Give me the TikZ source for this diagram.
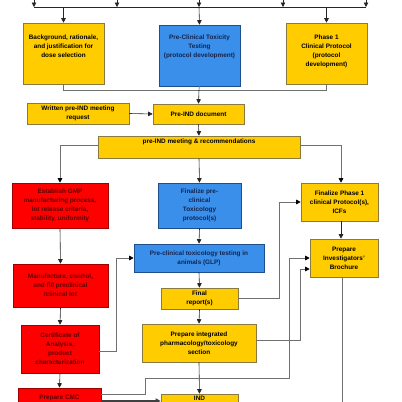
\documentclass[tikz,border=0pt]{standalone}
\usepackage{fontspec}
\setmainfont{Liberation Sans}
\usetikzlibrary{arrows.meta}
\definecolor{yfill}{HTML}{FFCC00}
\definecolor{ydraw}{HTML}{8A7A40}
\definecolor{bfill}{HTML}{3A8FEA}
\definecolor{bdraw}{HTML}{1F4E8C}
\definecolor{btext}{HTML}{14244E}
\definecolor{rfill}{HTML}{FF0000}
\definecolor{rdraw}{HTML}{A00000}
\definecolor{rtext}{HTML}{600000}
\definecolor{lgray}{HTML}{707070}
\newcommand{\toptext}[4]{\parbox[c][#2][t]{#1}{\centering\vspace*{#3}#4\par}}
\tikzset{
  base/.style={draw, line width=0.6pt, inner sep=0pt, font=\fontsize{6.4}{9}\selectfont\bfseries},
  box/.style={base, align=center},
  ybox/.style={box, fill=yfill, draw=ydraw, text=black},
  bbox/.style={box, fill=bfill, draw=bdraw, text=btext},
  rbox/.style={box, fill=rfill, draw=rdraw, text=rtext},
  ytop/.style={base, fill=yfill, draw=ydraw, text=black},
  btop/.style={base, fill=bfill, draw=bdraw, text=btext},
  rtop/.style={base, fill=rfill, draw=rdraw, text=rtext},
  arr/.style={draw=black!85, line width=0.6pt, -{Triangle[length=4.5pt,width=4.5pt]}},
  plain/.style={draw=black!85, line width=0.6pt},
  conn/.style={draw=lgray, line width=0.65pt, -{Triangle[length=4.5pt,width=4.5pt,color=black]}},
  gline/.style={draw=lgray, line width=0.65pt},
}
\begin{document}
\begin{tikzpicture}[x=1pt,y=-1pt]
\useasboundingbox (0,0) rectangle (402,402);
\clip (0,0) rectangle (402,402);

% boxes
\node[ytop] (bg) at (63.5,53.5) {\toptext{81pt}{61pt}{11.8pt}{Background, rationale,\\and justification for\\dose selection}};
\node[btop] (tox) at (199.5,55.5) {\toptext{81pt}{61pt}{9.8pt}{Pre-Clinical Toxicity\\Testing\\(protocol development)}};
\node[ytop] (ph1) at (326.5,53.5) {\toptext{81pt}{61pt}{11.8pt}{Phase 1\\Clinical Protocol\\(protocol\\development)}};

\node[ybox, minimum width=102pt, minimum height=21pt] (req) at (78,113.5) {Written pre-IND meeting\\request};
\node[ybox, minimum width=91pt, minimum height=20pt] (pre) at (198.5,114) {Pre-IND document};
\node[ytop] (meet) at (199,147) {\toptext{202pt}{22pt}{2.8pt}{pre-IND meeting \& recommendations}};

\node[rbox, minimum width=96pt, minimum height=45pt] (gmp) at (60,205.5) {Establish GMP\\manufacturing process,\\lot release criteria,\\stability, uniformity};
\node[bbox, minimum width=83pt, minimum height=45pt] (fin) at (199.5,205.5) {Finalize pre-\\clinical\\Toxicology\\protocol(s)};
\node[ybox, minimum width=77pt, minimum height=38pt] (fph) at (339.5,202) {Finalize Phase 1\\clinical Protocol(s),\\ICFs};

\node[bbox, minimum width=130pt, minimum height=28pt] (glp) at (199,258) {Pre-clinical toxicology testing in\\animals (GLP)};
\node[ybox, minimum width=68pt, minimum height=38pt] (ib) at (344,258) {Prepare\\Investigators'\\Brochure};
\node[rbox, minimum width=95pt, minimum height=43pt] (mfg) at (60.5,285.5) {Manufacture, control,\\and fill preclinical\\/clinical lot};
\node[ybox, minimum width=77pt, minimum height=21pt] (final) at (199.5,298.5) {Final\\report(s)};
\node[ybox, minimum width=114pt, minimum height=38pt] (integ) at (199,343) {Prepare integrated\\pharmacology/toxicology\\section};
\node[rbox, minimum width=78pt, minimum height=48pt] (coa) at (60,349) {Certificate of\\Analysis,\\product\\characterization};
\node[rtop] (cmc) at (59.5,404) {\toptext{83pt}{32pt}{6.8pt}{Prepare CMC}};
\node[ytop] (ind) at (199.5,410) {\toptext{77pt}{32pt}{2pt}{IND}};

% top distribution
\foreach \i/\x in {1/34,2/117,3/199,4/283,5/366}{
  \coordinate (ts\i) at (\x,-10);
  \coordinate (tf\i) at (\x,7);
  \draw[arr] (ts\i) -- (tf\i);
}
\draw[plain] (tf1) -- (tf5);
\draw[arr] (bg.north |- tf1) -- (bg.north);
\draw[arr] (tf3) -- (tox.north);
\draw[arr] (ph1.north |- tf1) -- (ph1.north);

% collector
\coordinate (colL) at (63.5,90);
\coordinate (colR) at (326.5,90);
\coordinate (colM) at (199,90);
\draw[gline] (bg.south) -- (colL) -- (colR) -- (ph1.south);
\draw[gline] (tox.south) -- (colM);
\draw[arr] (colM) -- (pre.north);
\draw[arr] (req.east) -- (pre.west);
\draw[arr] (pre.south) -- (meet.north);

\draw[conn] ([yshift=2pt]meet.west) -| (gmp.north);
\draw[conn] ([yshift=2pt]meet.east) -| ([xshift=1.5pt]fph.north);
\draw[arr] (meet.south) -- (fin.north);

\draw[arr] (fin.south) -- (glp.north);
\draw[arr] (glp.south) -- (final.north);
\draw[arr] (final.south) -- (integ.north);
\draw[arr] (integ.south) -- (ind.north);
\draw[arr] (gmp.south) -- (mfg.north);
\draw[arr] (mfg.south) -- (coa.north);
\draw[arr] (coa.south) -- (cmc.north);
\coordinate (fphs) at ([xshift=1.5pt]fph.south);
\draw[arr] (fphs) -- (ib.north -| fphs);

% elbow connectors
\draw[conn] ([yshift=-2pt]coa.east) -- ++(17,0) |- (glp.west);
\draw[conn] (final.east) -- ++(41,0) |- (fph.west);
\draw[conn] ([yshift=3pt]integ.east) -- ++(44,0) |- ([yshift=-11pt]ib.west);
\coordinate (c1) at (145,378);
\coordinate (c2) at (289,378);
\draw[conn] ([yshift=10pt]cmc.east) -| (c1) -- (c2) |- (ib.west);
\coordinate (cmcr) at ([yshift=3pt]cmc.east);
\draw[draw=black!75, line width=1.6pt, -{Triangle[length=5pt,width=5pt]}] (cmcr) -- (cmcr -| ind.west);
\coordinate (ibend) at (342,420);
\draw[gline] (ib.south -| ibend) -- (ibend);
\end{tikzpicture}
\end{document}
